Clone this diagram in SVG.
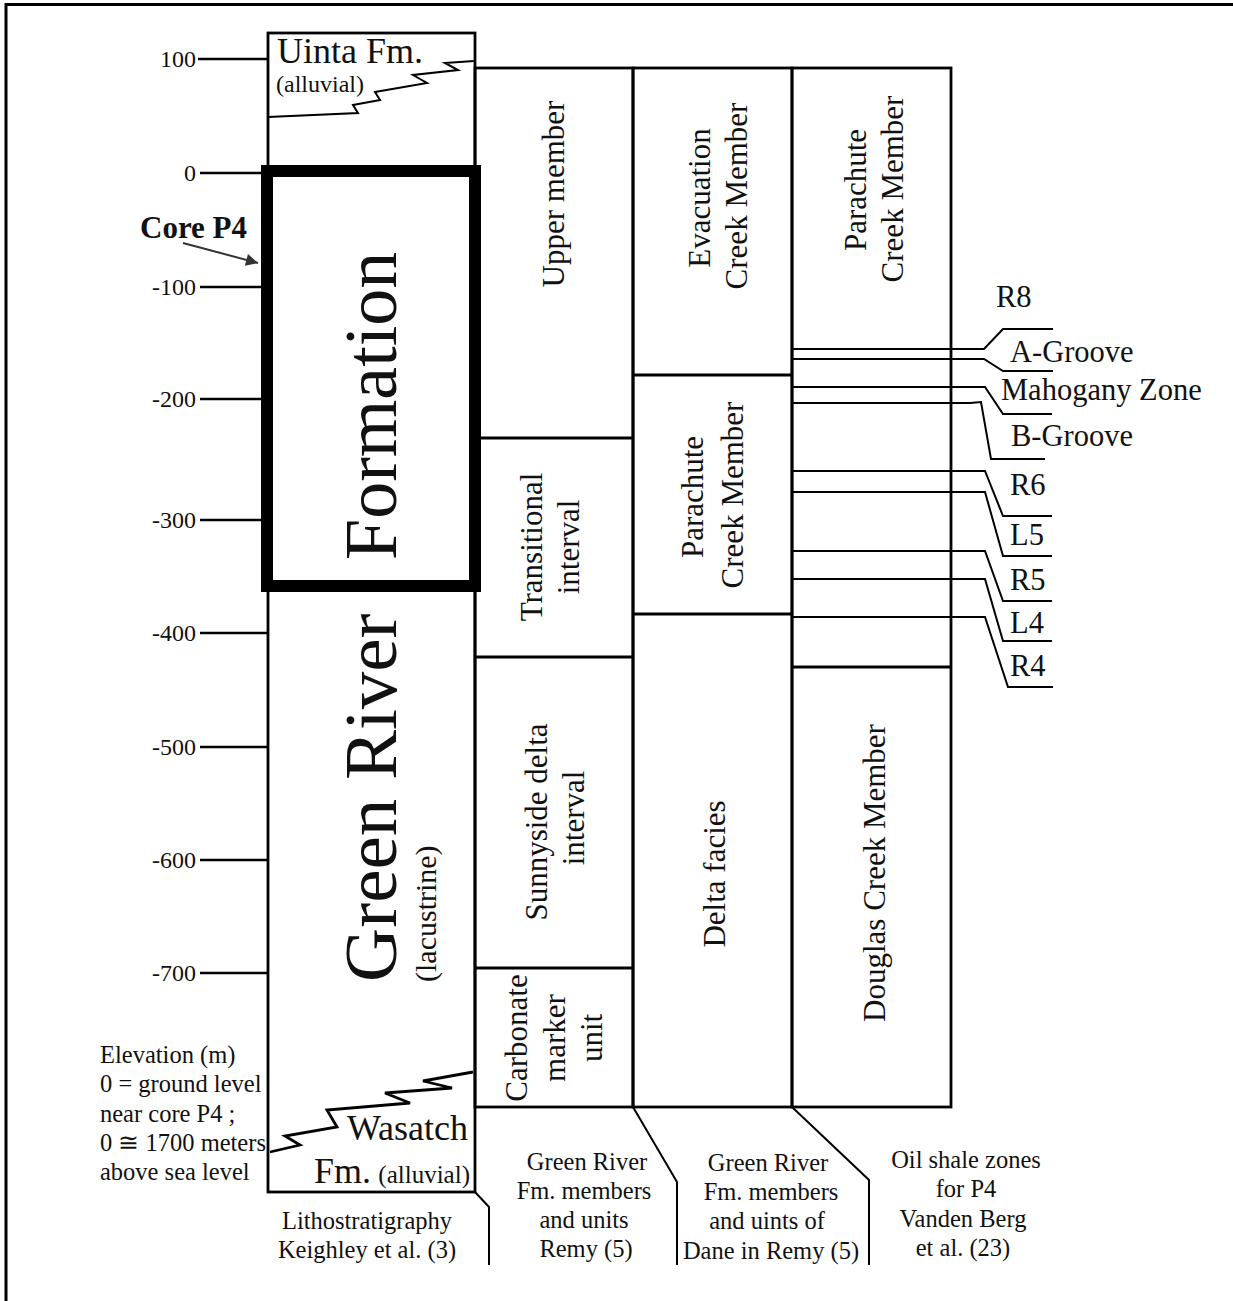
<svg xmlns="http://www.w3.org/2000/svg" width="1233" height="1301" viewBox="0 0 1233 1301">
<style>
.t{font-family:"Liberation Serif","Times New Roman",serif;fill:#111}
.ln{fill:none;stroke:#000;stroke-width:2.8}
.th{fill:none;stroke:#000;stroke-width:2}
.tk{stroke:#000;stroke-width:2.5}
.f31{font-size:31px}
.fn{font-size:24.5px}
.f24{font-size:24.5px}
.fe{font-size:24px}
.fr{font-size:30.5px}
</style>
<defs>
<marker id="ah2" viewBox="0 0 10 10" refX="10" refY="5" markerWidth="18" markerHeight="12" markerUnits="userSpaceOnUse" orient="auto">
<path d="M0,0 L10,5 L0,10 z" fill="#333"/>
</marker>
</defs>
<rect width="1233" height="1301" fill="#fff"/>
<g id="frame">
<path d="M6,1301 V4.5 H1233" fill="none" stroke="#000" stroke-width="3"/>
</g>
<g id="elevation-axis">
<g class="tk">
<line x1="198" y1="59" x2="268" y2="59"/>
<line x1="200" y1="173" x2="268" y2="173"/>
<line x1="200" y1="287" x2="268" y2="287"/>
<line x1="200" y1="399" x2="268" y2="399"/>
<line x1="200" y1="520" x2="268" y2="520"/>
<line x1="200" y1="633" x2="268" y2="633"/>
<line x1="200" y1="747" x2="268" y2="747"/>
<line x1="200" y1="860" x2="268" y2="860"/>
<line x1="200" y1="973" x2="268" y2="973"/>
</g>
<g class="t fe" text-anchor="end">
<text x="196" y="67">100</text>
<text x="196" y="181">0</text>
<text x="196" y="295">-100</text>
<text x="196" y="407">-200</text>
<text x="196" y="528">-300</text>
<text x="196" y="641">-400</text>
<text x="196" y="755">-500</text>
<text x="196" y="868">-600</text>
<text x="196" y="981">-700</text>
</g>
</g>
<g id="elevation-note" class="t fn">
<text x="100" y="1063">Elevation (m)</text>
<text x="100" y="1092">0 = ground level</text>
<text x="100" y="1122">near core P4 ;</text>
<text x="100" y="1151">0 ≅ 1700 meters</text>
<text x="100" y="1180">above sea level</text>
</g>
<g id="core-p4">
<text class="t" x="140" y="238" font-size="31" font-weight="bold">Core P4</text>
</g>
<g id="lithostratigraphy">
<rect x="268" y="33" width="207" height="1159" class="ln"/>
<polyline class="th" points="474,61 445,63 458,70 413,75 427,83 375,92 380,100 353,105 358,113 268,117"/>
<text class="t" x="277" y="63" font-size="36">Uinta Fm.</text>
<text class="t" x="276" y="92" font-size="24">(alluvial)</text>
<polyline class="ln" stroke-width="2.4" points="473,1072 423,1081 452,1088 385,1093 410,1103 327,1110 337,1127 285,1136 300,1145 270,1152"/>
<text class="t" x="468" y="1140" font-size="36" text-anchor="end">Wasatch</text>
<text class="t" x="314" y="1183" font-size="36">Fm.</text>
<text class="t" x="470" y="1183" font-size="25" text-anchor="end">(alluvial)</text>
<text class="t" transform="translate(396,982) rotate(-90)" font-size="75">Green River</text>
<text class="t" transform="translate(396,560) rotate(-90)" font-size="74">Formation</text>
<text class="t" transform="translate(436,982) rotate(-90)" font-size="30">(lacustrine)</text>
</g>
<g id="core-p4-box">
<rect x="267" y="171" width="208" height="415" fill="none" stroke="#000" stroke-width="12"/>
</g>
<g id="col-remy">
<rect x="475" y="68" width="158" height="1039" class="ln"/>
<line x1="475" y1="438" x2="633" y2="438" class="ln"/>
<line x1="475" y1="657" x2="633" y2="657" class="ln"/>
<line x1="475" y1="968" x2="633" y2="968" class="ln"/>
<g class="t f31" text-anchor="middle">
<text transform="translate(564,194) rotate(-90)">Upper member</text>
<text transform="translate(542,547) rotate(-90)">Transitional</text>
<text transform="translate(579,547) rotate(-90)">interval</text>
<text transform="translate(547,822) rotate(-90)">Sunnyside delta</text>
<text transform="translate(584,818) rotate(-90)">interval</text>
<text transform="translate(527,1038) rotate(-90)">Carbonate</text>
<text transform="translate(565,1038) rotate(-90)">marker</text>
<text transform="translate(602,1038) rotate(-90)">unit</text>
</g>
</g>
<g id="col-dane">
<rect x="633" y="68" width="159" height="1039" class="ln"/>
<line x1="633" y1="375" x2="792" y2="375" class="ln"/>
<line x1="633" y1="614" x2="792" y2="614" class="ln"/>
<g class="t f31" text-anchor="middle">
<text transform="translate(710,198) rotate(-90)">Evacuation</text>
<text transform="translate(747,196) rotate(-90)">Creek Member</text>
<text transform="translate(703,497) rotate(-90)">Parachute</text>
<text transform="translate(743,495) rotate(-90)">Creek Member</text>
<text transform="translate(725,874) rotate(-90)">Delta facies</text>
</g>
</g>
<g id="col-vandenberg">
<rect x="792" y="68" width="159" height="1039" class="ln"/>
<line x1="792" y1="667" x2="951" y2="667" class="ln"/>
<g class="t f31" text-anchor="middle">
<text transform="translate(866,190) rotate(-90)">Parachute</text>
<text transform="translate(903,189) rotate(-90)">Creek Member</text>
<text transform="translate(885,873) rotate(-90)">Douglas Creek Member</text>
</g>
</g>
<g id="oil-shale-zones" class="t fr">
<text x="996" y="307">R8</text>
<text x="1010" y="362">A-Groove</text>
<text x="1001" y="400">Mahogany Zone</text>
<text x="1011" y="446">B-Groove</text>
<text x="1010" y="495">R6</text>
<text x="1010" y="545">L5</text>
<text x="1010" y="590">R5</text>
<text x="1010" y="633">L4</text>
<text x="1010" y="676">R4</text>
</g>
<g id="column-captions" class="t f24" text-anchor="middle">
<text x="367" y="1229">Lithostratigraphy</text>
<text x="367" y="1258">Keighley et al. (3)</text>
<text x="587" y="1170">Green River</text>
<text x="584" y="1199">Fm. members</text>
<text x="584" y="1228">and units</text>
<text x="586" y="1257">Remy (5)</text>
<text x="768" y="1171">Green River</text>
<text x="771" y="1200">Fm. members</text>
<text x="767" y="1229">and uints of</text>
<text x="771" y="1259">Dane in Remy (5)</text>
<text x="966" y="1168">Oil shale zones</text>
<text x="966" y="1197">for P4</text>
<text x="963" y="1227">Vanden Berg</text>
<text x="963" y="1256">et al. (23)</text>
</g>
<g id="connectors">
<line x1="183" y1="243" x2="258" y2="263" stroke="#333" stroke-width="2" marker-end="url(#ah2)"/>
<g class="th">
<polyline points="792,349 984,349 1003,329 1053,329"/>
<polyline points="792,359 984,359 1003,371 1053,371"/>
<polyline points="792,387 985,387 1003,414 1052,414"/>
<polyline points="792,403 970,403 981,402 991,459 1045,459"/>
<polyline points="792,471 985,471 1003,516 1052,516"/>
<polyline points="792,492 985,492 1003,556 1052,556"/>
<polyline points="792,551 985,551 1003,601 1052,601"/>
<polyline points="792,579 985,579 1003,641 1052,641"/>
<polyline points="792,617 985,617 1008,687 1053,687"/>
</g>
<g class="th">
<polyline points="475,1192 489,1207 489,1265"/>
<polyline points="633,1107 677,1182 677,1265"/>
<polyline points="792,1107 869,1180 869,1265"/>
</g>
</g>
</svg>
